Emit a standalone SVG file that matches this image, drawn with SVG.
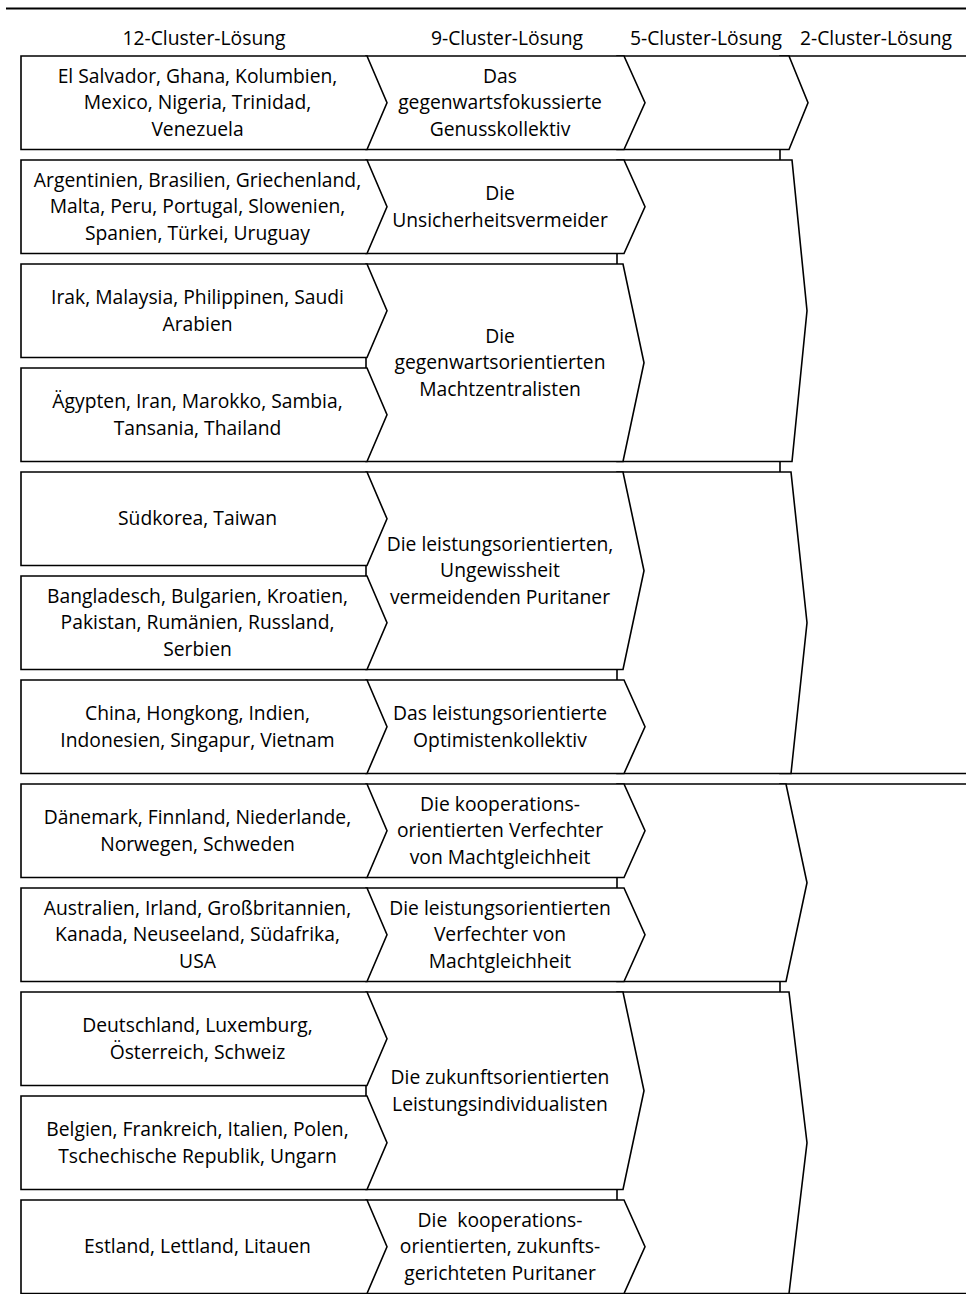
<svg xmlns="http://www.w3.org/2000/svg" width="966" height="1294" viewBox="0 0 966 1294">
<style>
.s{fill:#fff;stroke:#000;stroke-width:1.6;stroke-linejoin:miter}
.t{font-family:"Open Sans","Liberation Sans",sans-serif;font-size:19.3px;fill:#000;text-anchor:middle}
.rule{stroke:#000;stroke-width:2;fill:none}
</style>
<rect width="966" height="1294" fill="#fff"/>
<g id="table-rules">
<line class="rule" x1="6" y1="8.5" x2="966" y2="8.5"/>
</g>
<g id="header">
<text class="t" x="204" y="44.5">12-Cluster-Lösung</text>
<text class="t" x="507" y="44.5">9-Cluster-Lösung</text>
<text class="t" x="706" y="44.5">5-Cluster-Lösung</text>
<text class="t" x="876" y="44.5">2-Cluster-Lösung</text>
</g>
<g id="connectors"></g>
<!-- 2-cluster -->
<g id="c2-1"><polygon class="s" points="780,56 1000,56 1000,773.5 780,773.5"/></g>
<g id="c2-2"><polygon class="s" points="780,784 1000,784 1000,1293.5 780,1293.5"/></g>
<!-- 5-cluster -->
<g id="c5-1"><polygon class="s" points="617,56 789,56 808,102.75 789,149.5 617,149.5"/></g>
<g id="c5-2"><polygon class="s" points="617,160 792,160 807,310.75 792,461.5 617,461.5"/></g>
<g id="c5-3"><polygon class="s" points="617,472 791,472 807,622.75 791,773.5 617,773.5"/></g>
<g id="c5-4"><polygon class="s" points="617,784 786,784 807,882.75 786,981.5 617,981.5"/></g>
<g id="c5-5"><polygon class="s" points="617,992 789,992 807,1142.75 789,1293.5 617,1293.5"/></g>
<!-- 9-cluster -->
<g id="c9-1"><polygon class="s" points="366,56 624,56 645,102.75 624,149.5 366,149.5"/>
<text class="t"><tspan x="500" y="82.75">Das</tspan><tspan x="500" y="109.25">gegenwartsfokussierte</tspan><tspan x="500" y="135.75">Genusskollektiv</tspan></text></g>
<g id="c9-2"><polygon class="s" points="366,160 624,160 645,206.75 624,253.5 366,253.5"/>
<text class="t"><tspan x="500" y="200">Die</tspan><tspan x="500" y="226.5">Unsicherheitsvermeider</tspan></text></g>
<g id="c9-3"><polygon class="s" points="366,264 623,264 644,362.75 623,461.5 366,461.5"/>
<text class="t"><tspan x="500" y="342.75">Die</tspan><tspan x="500" y="369.25">gegenwartsorientierten</tspan><tspan x="500" y="395.75">Machtzentralisten</tspan></text></g>
<g id="c9-4"><polygon class="s" points="366,472 623,472 644,570.75 623,669.5 366,669.5"/>
<text class="t"><tspan x="500" y="550.75">Die leistungsorientierten,</tspan><tspan x="500" y="577.25">Ungewissheit</tspan><tspan x="500" y="603.75">vermeidenden Puritaner</tspan></text></g>
<g id="c9-5"><polygon class="s" points="366,680 624,680 645,726.75 624,773.5 366,773.5"/>
<text class="t"><tspan x="500" y="720">Das leistungsorientierte</tspan><tspan x="500" y="746.5">Optimistenkollektiv</tspan></text></g>
<g id="c9-6"><polygon class="s" points="366,784 624,784 645,830.75 624,877.5 366,877.5"/>
<text class="t"><tspan x="500" y="810.75">Die kooperations-</tspan><tspan x="500" y="837.25">orientierten Verfechter</tspan><tspan x="500" y="863.75">von Machtgleichheit</tspan></text></g>
<g id="c9-7"><polygon class="s" points="366,888 624,888 645,934.75 624,981.5 366,981.5"/>
<text class="t"><tspan x="500" y="914.75">Die leistungsorientierten</tspan><tspan x="500" y="941.25">Verfechter von</tspan><tspan x="500" y="967.75">Machtgleichheit</tspan></text></g>
<g id="c9-8"><polygon class="s" points="366,992 623,992 644,1090.75 623,1189.5 366,1189.5"/>
<text class="t"><tspan x="500" y="1084">Die zukunftsorientierten</tspan><tspan x="500" y="1110.5">Leistungsindividualisten</tspan></text></g>
<g id="c9-9"><polygon class="s" points="366,1200 624,1200 645,1246.75 624,1293.5 366,1293.5"/>
<text class="t" xml:space="preserve"><tspan x="500" y="1226.75">Die  kooperations-</tspan><tspan x="500" y="1253.25">orientierten, zukunfts-</tspan><tspan x="500" y="1279.75">gerichteten Puritaner</tspan></text></g>
<!-- 12-cluster -->
<g id="c12-1"><polygon class="s" points="21,56 367,56 387,102.75 367,149.5 21,149.5"/>
<text class="t"><tspan x="197.5" y="82.75">El Salvador, Ghana, Kolumbien,</tspan><tspan x="197.5" y="109.25">Mexico, Nigeria, Trinidad,</tspan><tspan x="197.5" y="135.75">Venezuela</tspan></text></g>
<g id="c12-2"><polygon class="s" points="21,160 367,160 387,206.75 367,253.5 21,253.5"/>
<text class="t"><tspan x="197.5" y="186.75">Argentinien, Brasilien, Griechenland,</tspan><tspan x="197.5" y="213.25">Malta, Peru, Portugal, Slowenien,</tspan><tspan x="197.5" y="239.75">Spanien, Türkei, Uruguay</tspan></text></g>
<g id="c12-3"><polygon class="s" points="21,264 367,264 387,310.75 367,357.5 21,357.5"/>
<text class="t"><tspan x="197.5" y="304">Irak, Malaysia, Philippinen, Saudi</tspan><tspan x="197.5" y="330.5">Arabien</tspan></text></g>
<g id="c12-4"><polygon class="s" points="21,368 367,368 387,414.75 367,461.5 21,461.5"/>
<text class="t"><tspan x="197.5" y="408">Ägypten, Iran, Marokko, Sambia,</tspan><tspan x="197.5" y="434.5">Tansania, Thailand</tspan></text></g>
<g id="c12-5"><polygon class="s" points="21,472 367,472 387,518.75 367,565.5 21,565.5"/>
<text class="t"><tspan x="197.5" y="525.25">Südkorea, Taiwan</tspan></text></g>
<g id="c12-6"><polygon class="s" points="21,576 367,576 387,622.75 367,669.5 21,669.5"/>
<text class="t"><tspan x="197.5" y="602.75">Bangladesch, Bulgarien, Kroatien,</tspan><tspan x="197.5" y="629.25">Pakistan, Rumänien, Russland,</tspan><tspan x="197.5" y="655.75">Serbien</tspan></text></g>
<g id="c12-7"><polygon class="s" points="21,680 367,680 387,726.75 367,773.5 21,773.5"/>
<text class="t"><tspan x="197.5" y="720">China, Hongkong, Indien,</tspan><tspan x="197.5" y="746.5">Indonesien, Singapur, Vietnam</tspan></text></g>
<g id="c12-8"><polygon class="s" points="21,784 367,784 387,830.75 367,877.5 21,877.5"/>
<text class="t"><tspan x="197.5" y="824">Dänemark, Finnland, Niederlande,</tspan><tspan x="197.5" y="850.5">Norwegen, Schweden</tspan></text></g>
<g id="c12-9"><polygon class="s" points="21,888 367,888 387,934.75 367,981.5 21,981.5"/>
<text class="t"><tspan x="197.5" y="914.75">Australien, Irland, Großbritannien,</tspan><tspan x="197.5" y="941.25">Kanada, Neuseeland, Südafrika,</tspan><tspan x="197.5" y="967.75">USA</tspan></text></g>
<g id="c12-10"><polygon class="s" points="21,992 367,992 387,1038.75 367,1085.5 21,1085.5"/>
<text class="t"><tspan x="197.5" y="1032">Deutschland, Luxemburg,</tspan><tspan x="197.5" y="1058.5">Österreich, Schweiz</tspan></text></g>
<g id="c12-11"><polygon class="s" points="21,1096 367,1096 387,1142.75 367,1189.5 21,1189.5"/>
<text class="t"><tspan x="197.5" y="1136">Belgien, Frankreich, Italien, Polen,</tspan><tspan x="197.5" y="1162.5">Tschechische Republik, Ungarn</tspan></text></g>
<g id="c12-12"><polygon class="s" points="21,1200 367,1200 387,1246.75 367,1293.5 21,1293.5"/>
<text class="t"><tspan x="197.5" y="1253.25">Estland, Lettland, Litauen</tspan></text></g>
</svg>
